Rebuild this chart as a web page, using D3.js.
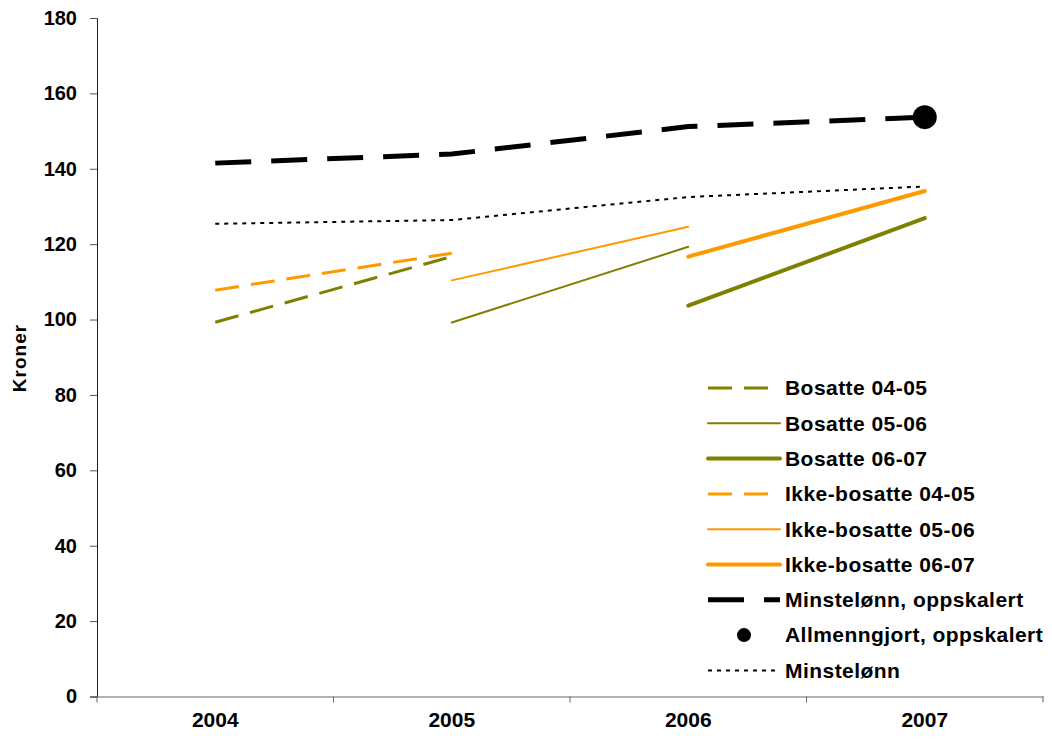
<!DOCTYPE html>
<html lang="no">
<head>
<meta charset="utf-8">
<style>
  body { margin: 0; background: #fff; }
  text { font-family: "Liberation Sans", Arial, sans-serif; font-weight: bold; fill: #000; }
</style>
</head>
<body>
<svg width="1052" height="740"></svg>
<script src="https://d3js.org/d3.v7.min.js"></script>
<script>
// data
var years = ["2004", "2005", "2006", "2007"];
var yTicks = [0, 20, 40, 60, 80, 100, 120, 140, 160, 180];

var bosatte0405 = [["2004", 99.3], ["2005", 116.7]];
var bosatte0506 = [["2005", 99.2], ["2006", 119.3]];
var bosatte0607 = [["2006", 103.7], ["2007", 126.9]];
var ikke0405 = [["2004", 107.8], ["2005", 117.6]];
var ikke0506 = [["2005", 110.4], ["2006", 124.6]];
var ikke0607 = [["2006", 116.7], ["2007", 134.1]];
var minstOpp = [["2004", 141.5], ["2005", 143.9], ["2006", 151.2], ["2007", 153.7]];
var allmenn = [["2007", 153.7]];
var minst = [["2004", 125.4], ["2005", 126.4], ["2006", 132.5], ["2007", 135.3]];

var olive = "#808000", orange = "#FF9900";

var series = [
  { name: "Bosatte 04-05", data: bosatte0405, color: olive, width: 3, dash: "24,12" },
  { name: "Bosatte 05-06", data: bosatte0506, color: olive, width: 2, dash: null },
  { name: "Bosatte 06-07", data: bosatte0607, color: olive, width: 4, dash: null },
  { name: "Ikke-bosatte 04-05", data: ikke0405, color: orange, width: 3, dash: "24,12" },
  { name: "Ikke-bosatte 05-06", data: ikke0506, color: orange, width: 2, dash: null },
  { name: "Ikke-bosatte 06-07", data: ikke0607, color: orange, width: 4, dash: null },
  { name: "Minstelønn, oppskalert", data: minstOpp, color: "#000", width: 5, dash: "36,20" },
  { name: "Allmenngjort, oppskalert", data: allmenn, color: "#000", dot: true },
  { name: "Minstelønn", data: minst, color: "#000", width: 2, dash: "4,5" }
];

var svg = d3.select("svg");
var margin = { left: 97, top: 18, right: 9, bottom: 43.5 };
var width = 1052 - margin.left - margin.right,
    height = 740 - margin.top - margin.bottom;

var g = svg.append("g").attr("transform", "translate(" + margin.left + "," + margin.top + ")");

var x = d3.scaleBand().domain(years).range([0, width]);
var y = d3.scaleLinear().domain([0, 180]).range([height, 0]);

// y axis
var yAxis = g.append("g")
  .call(d3.axisLeft(y).tickValues(yTicks).tickSize(7).tickPadding(13));
yAxis.select(".domain").attr("stroke", "#222");
yAxis.selectAll(".tick line").attr("stroke", "#555");
yAxis.selectAll("text").style("font-size", "20px");

// x axis with ticks at the category borders
var xAxis = g.append("g").attr("transform", "translate(0," + height + ")")
  .call(d3.axisBottom(x).tickSize(0).tickPadding(16));
xAxis.select(".domain").attr("stroke", "#666");
xAxis.selectAll("text").style("font-size", "21px");
xAxis.selectAll(".border")
  .data(d3.range(years.length + 1))
  .enter().append("line")
  .attr("class", "border")
  .attr("x1", function (i) { return i * x.step(); })
  .attr("x2", function (i) { return i * x.step(); })
  .attr("y1", 0).attr("y2", 6)
  .attr("stroke", "#666");

svg.append("text")
  .attr("transform", "translate(26,358) rotate(-90)")
  .attr("text-anchor", "middle")
  .style("font-size", "19px")
  .style("letter-spacing", "1px")
  .text("Kroner");

var cx = function (d) { return x(d[0]) + x.bandwidth() / 2; };
var line = d3.line().x(cx).y(function (d) { return y(d[1]); });

series.forEach(function (s) {
  if (s.dot) {
    g.selectAll(null).data(s.data).enter().append("circle")
      .attr("cx", cx).attr("cy", function (d) { return y(d[1]); })
      .attr("r", 12).attr("fill", s.color);
  } else {
    g.append("path")
      .datum(s.data)
      .attr("d", line)
      .attr("fill", "none")
      .attr("stroke", s.color)
      .attr("stroke-width", s.width)
      .attr("stroke-linecap", s.dash ? "butt" : "round")
      .attr("stroke-dasharray", s.dash);
  }
});

// legend
var legend = svg.append("g").attr("transform", "translate(708,388)");
var rowH = 35.3;
var item = legend.selectAll(".item").data(series).enter().append("g")
  .attr("transform", function (d, i) { return "translate(0," + (i * rowH) + ")"; });

item.each(function (s) {
  var el = d3.select(this);
  if (s.dot) {
    el.append("circle").attr("cx", 36).attr("cy", 0).attr("r", 7).attr("fill", s.color);
  } else {
    el.append("line")
      .attr("x1", 0).attr("x2", 72).attr("y1", 0).attr("y2", 0)
      .attr("stroke", s.color)
      .attr("stroke-width", s.width)
      .attr("stroke-linecap", s.dash ? "butt" : "round")
      .attr("stroke-dasharray", s.dash);
  }
});

item.append("text")
  .attr("x", 77).attr("y", 0).attr("dy", "0.35em")
  .style("font-size", "21px")
  .style("letter-spacing", "0.45px")
  .text(function (d) { return d.name; });
</script>
</body>
</html>
